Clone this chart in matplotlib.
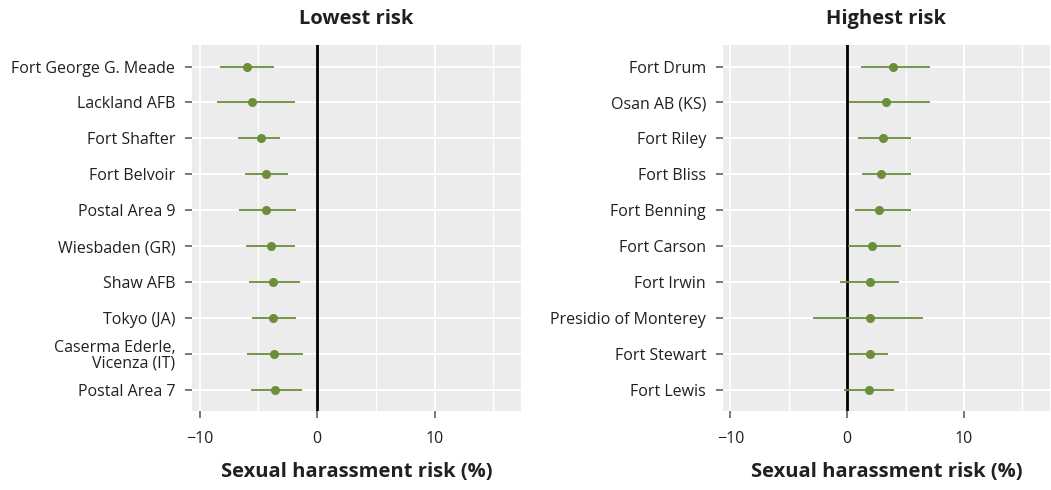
import matplotlib
matplotlib.use("Agg")
import matplotlib.pyplot as plt
import numpy as np

plt.rcParams['font.family'] = ['Open Sans', 'DejaVu Sans']

# DATA
low_sites = ['Fort George G. Meade', 'Lackland AFB', 'Fort Shafter', 'Fort Belvoir',
             'Postal Area 9', 'Wiesbaden (GR)', 'Shaw AFB', 'Tokyo (JA)',
             'Caserma Ederle,\nVicenza (IT)', 'Postal Area 7']
low_est = [-5.96, -5.59, -4.82, -4.39, -4.33, -3.93, -3.79, -3.73, -3.68, -3.62]
low_lo = [-8.24, -8.50, -6.73, -6.15, -6.64, -6.04, -5.81, -5.59, -5.96, -5.67]
low_hi = [-3.70, -1.88, -3.16, -2.48, -1.83, -1.85, -1.45, -1.80, -1.20, -1.28]

high_sites = ['Fort Drum', 'Osan AB (KS)', 'Fort Riley', 'Fort Bliss', 'Fort Benning',
              'Fort Carson', 'Fort Irwin', 'Presidio of Monterey', 'Fort Stewart', 'Fort Lewis']
high_est = [3.96, 3.36, 3.10, 2.93, 2.74, 2.14, 1.97, 1.94, 1.91, 1.88]
high_lo = [1.17, 0.11, 0.94, 1.25, 0.63, 0.10, -0.60, -2.96, 0.11, -0.26]
high_hi = [7.09, 7.12, 5.47, 5.47, 5.47, 4.64, 4.47, 6.47, 3.50, 3.99]

x_ticks = [-10, 0, 10]
x_minor = [-5, 5, 15]

bg = '#EBECEB'
green = '#6B8E3A'
txt = '#231F20'

fig = plt.figure(figsize=(10.51, 4.90), dpi=100)
ax1 = fig.add_axes([0.1827, 0.161, 0.313, 0.747])
ax2 = fig.add_axes([0.6876, 0.161, 0.3114, 0.747])


def draw_panel(ax, sites, est, lo, hi, title):
    n = len(sites)
    y = np.arange(n, 0, -1)
    ax.set_facecolor(bg)
    for s in ax.spines.values():
        s.set_visible(False)
    ax.set_xlim(-10.66, 17.35)
    ax.set_ylim(0.4, n + 0.6)
    ax.set_xticks(x_ticks)
    ax.set_xticks(x_minor, minor=True)
    ax.set_yticks(y)
    ax.set_yticklabels(sites, fontsize=11.5, color=txt, linespacing=0.95)
    ax.set_xticklabels([str(t).replace('-', '\u2212') for t in x_ticks], fontsize=11.5, color=txt)
    ax.grid(True, which='major', color='white', linewidth=1.4)
    ax.grid(True, which='minor', axis='x', color='white', linewidth=1.0)
    ax.set_axisbelow(True)
    ax.tick_params(axis='y', which='major', length=5, width=1.1, color='#555555', pad=7)
    ax.tick_params(axis='x', which='major', length=5, width=1.1, color='#555555', pad=9)
    ax.tick_params(axis='x', which='minor', length=0)
    ax.axvline(0, color='black', linewidth=2.0, zorder=2)
    ax.hlines(y, lo, hi, color=green, linewidth=1.3, zorder=3)
    ax.plot(est, y, 'o', color=green, markersize=5.5, zorder=4)
    ax.set_title(title, fontsize=14.5, fontweight='bold', color=txt, pad=15)
    ax.set_xlabel('Sexual harassment risk (%)', fontsize=14.5, fontweight='bold',
                  color=txt, labelpad=11)


draw_panel(ax1, low_sites, low_est, low_lo, low_hi, 'Lowest risk')
draw_panel(ax2, high_sites, high_est, high_lo, high_hi, 'Highest risk')

fig.savefig('out.png', dpi=100, facecolor='white')
